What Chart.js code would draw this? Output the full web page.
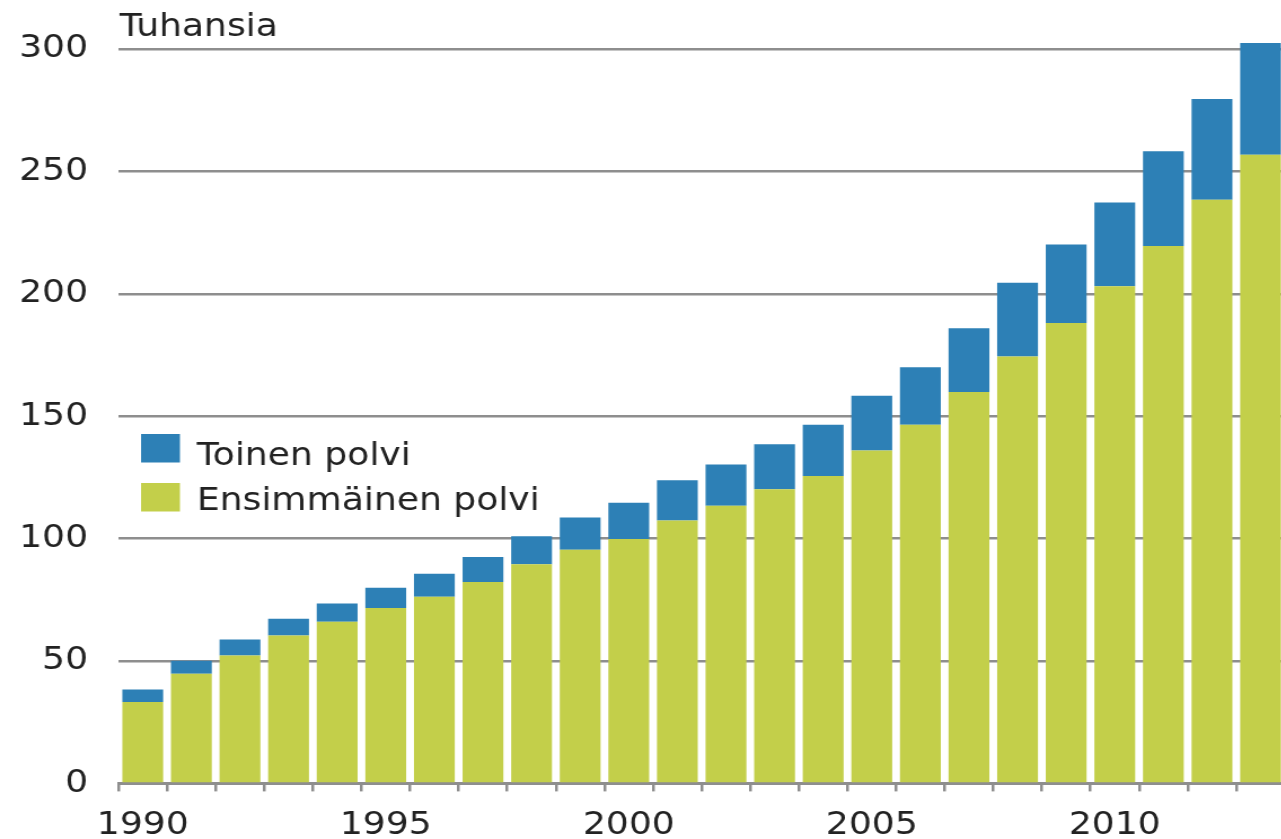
<!DOCTYPE html>
<html lang="fi">
<head>
<meta charset="utf-8">
<title>Tuhansia</title>
<script src="https://cdn.jsdelivr.net/npm/chart.js@4"></script>
<style>
    html, body { margin: 0; padding: 0; overflow: hidden; background: #fff; }
</style>
</head>
<body>
<!-- canvas is drawn narrower and stretched wide, like the original picture -->
<canvas id="kaavio" width="1140" height="859" style="width:1286px;height:859px"></canvas>
<script>
// Vuodet
var vuodet = ["1990", "1991", "1992", "1993", "1994", "1995", "1996", "1997", "1998", "1999", "2000", "2001",
              "2002", "2003", "2004", "2005", "2006", "2007", "2008", "2009", "2010", "2011", "2012", "2013"];
// Ensimmäinen polvi, tuhansia
var ensimmainen = [33.3, 44.8, 52.2, 60.4, 66.0, 71.7, 76.2, 82.3, 89.5, 95.4, 99.8, 107.4,
                   113.4, 120.2, 125.6, 136.0, 146.5, 159.9, 174.4, 188.1, 203.1, 219.5, 238.4, 256.8];
// Toinen polvi, tuhansia
var toinen = [5.1, 5.3, 6.6, 6.9, 7.5, 8.2, 9.4, 10.2, 11.5, 13.2, 14.8, 16.4,
              16.9, 18.3, 20.9, 22.4, 23.5, 26.0, 30.1, 32.0, 34.2, 38.7, 41.2, 45.6];
var yTicks = [0, 50, 100, 150, 200, 250, 300];

var sininen = "#2d80b6";
var vihrea = "#c3cf4a";
var harmaa = "#8e8e8e";

// legend inside the plot + the "Tuhansia" unit text
var omaSelite = {
    id: "omaSelite",
    afterDatasetsDraw: function(chart) {
        var ctx = chart.ctx;
        ctx.save();
        ctx.fillStyle = "#222";
        ctx.font = "32px 'DejaVu Sans'";
        ctx.textBaseline = "alphabetic";
        ctx.textAlign = "left";
        ctx.fillText("Tuhansia", 106, 36);

        // top row = top of the stack
        var rivit = [chart.data.datasets[1], chart.data.datasets[0]];
        var laatikot = [[434, 465], [483, 510]];
        rivit.forEach(function(ds, i) {
            ctx.fillStyle = ds.backgroundColor;
            ctx.fillRect(125, laatikot[i][0], 34.5, 28.5);
            ctx.fillStyle = "#222";
            ctx.fillText(ds.label, 174.5, laatikot[i][1]);
        });
        ctx.restore();
    }
};

document.addEventListener("DOMContentLoaded", function() {
    Chart.defaults.font.family = "'DejaVu Sans'";
    Chart.defaults.color = "#222";

    new Chart("kaavio", {
        type: "bar",
        data: {
            labels: vuodet,
            datasets: [{
                label: "Ensimmäinen polvi",
                data: ensimmainen,
                backgroundColor: vihrea,
                borderWidth: 0,
                clip: false
            }, {
                label: "Toinen polvi",
                data: toinen,
                backgroundColor: sininen,
                borderWidth: 0,
                clip: false
            }]
        },
        options: {
            responsive: false,
            devicePixelRatio: 1,
            animation: false,
            barPercentage: 0.84,
            categoryPercentage: 1.0,
            layout: {
                padding: { left: 17, top: 49, right: 1, bottom: 0 }
            },
            plugins: {
                legend: { display: false },
                tooltip: { enabled: false }
            },
            scales: {
                x: {
                    stacked: true,
                    offset: true,
                    afterFit: function(scale) {
                        // first label must not push the plot to the right
                        scale.paddingLeft = 0;
                        scale.paddingRight = 0;
                    },
                    grid: {
                        offset: true,
                        drawOnChartArea: false,
                        tickLength: 8,
                        color: harmaa,
                        lineWidth: 2.5
                    },
                    border: { color: harmaa, width: 3 },
                    ticks: {
                        autoSkip: false,
                        maxRotation: 0,
                        padding: 14.6,
                        font: { size: 32 },
                        callback: function(value) {
                            var v = this.getLabelForValue(value);
                            return Number(v) % 5 === 0 ? v : "";
                        }
                    }
                },
                y: {
                    stacked: true,
                    min: yTicks[0],
                    max: yTicks[yTicks.length - 1],
                    afterBuildTicks: function(scale) {
                        scale.ticks = yTicks.map(function(v) { return { value: v }; });
                    },
                    afterFit: function(scale) {
                        scale.width = 88;
                    },
                    grid: {
                        drawTicks: false,
                        color: harmaa,
                        lineWidth: 2.5
                    },
                    border: { display: false },
                    ticks: {
                        padding: 27,
                        font: { size: 32 }
                    }
                }
            }
        },
        plugins: [omaSelite]
    });
});
</script>
</body>
</html>
